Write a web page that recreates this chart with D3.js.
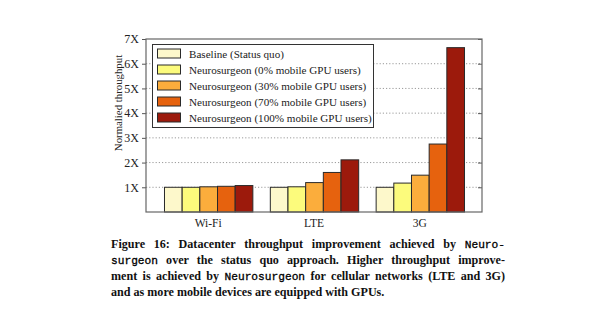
<!DOCTYPE html>
<html>
<head>
<meta charset="utf-8">
<script src="https://cdn.jsdelivr.net/npm/d3@7"></script>
<style>
  html, body { margin: 0; padding: 0; background: #fff; }
  svg { display: block; }
</style>
</head>
<body>
<svg id="chart" width="600" height="330"></svg>
<script>
// Throughput per network type, normalised to the status-quo baseline
const categories = ["Wi-Fi", "LTE", "3G"];
const seriesNames = [
  "Baseline (Status quo)",
  "Neurosurgeon (0% mobile GPU users)",
  "Neurosurgeon (30% mobile GPU users)",
  "Neurosurgeon (70% mobile GPU users)",
  "Neurosurgeon (100% mobile GPU users)"
];
const baseline = [1.00, 1.00, 1.00];
const gpu0     = [1.00, 1.02, 1.17];
const gpu30    = [1.02, 1.19, 1.49];
const gpu70    = [1.04, 1.60, 2.75];
const gpu100   = [1.07, 2.11, 6.65];
const yTicks = [1, 2, 3, 4, 5, 6, 7];
const yTickLabels = ["1X", "2X", "3X", "4X", "5X", "6X", "7X"];
const colors = ["#fdf8cb", "#fcfb7c", "#fbad3c", "#e6620e", "#9c1a0c"];

const seriesValues = [baseline, gpu0, gpu30, gpu70, gpu100];

const svg = d3.select("#chart");
const serif = "'Liberation Serif', 'Times New Roman', serif";
const mono = "'Liberation Mono', 'DejaVu Sans Mono', monospace";

const plot = { left: 146, right: 482, top: 39, bottom: 212 };

const x0 = d3.scaleBand()
  .domain(categories)
  .range([plot.left, plot.right])
  .paddingInner(0.165)
  .paddingOuter(0.17);

const x1 = d3.scaleBand()
  .domain(d3.range(seriesNames.length))
  .range([0, x0.bandwidth()])
  .padding(0);

const y = d3.scaleLinear().domain([0, 7]).range([plot.bottom, plot.top]);

// dotted grid lines
svg.append("g")
  .selectAll("line")
  .data(yTicks.filter(t => t < 7))
  .join("line")
  .attr("x1", plot.left).attr("x2", plot.right)
  .attr("y1", d => y(d)).attr("y2", d => y(d))
  .attr("stroke", "#9a9a9a")
  .attr("stroke-width", 1)
  .attr("stroke-dasharray", "1.2,2");

// bars
const groups = svg.append("g")
  .selectAll("g")
  .data(categories)
  .join("g")
  .attr("transform", d => `translate(${x0(d)},0)`);

groups.selectAll("rect")
  .data((c, ci) => seriesValues.map((vals, si) => ({ si, v: vals[ci] })))
  .join("rect")
  .attr("x", d => x1(d.si) + 0.5)
  .attr("width", x1.bandwidth())
  .attr("y", d => y(d.v))
  .attr("height", d => y(0) - y(d.v))
  .attr("fill", d => colors[d.si])
  .attr("stroke", "#2a2a2a")
  .attr("stroke-width", 1);

// left axis
const yAxisLeft = d3.axisLeft(y)
  .tickValues(yTicks)
  .tickFormat((d, i) => yTickLabels[i])
  .tickSize(4)
  .tickPadding(3);
const gy = svg.append("g")
  .attr("transform", `translate(${plot.left},0)`)
  .call(yAxisLeft);
gy.select(".domain").remove();
gy.selectAll(".tick line").attr("stroke", "#555");
gy.selectAll(".tick text")
  .attr("font-family", serif)
  .attr("font-size", 12)
  .attr("fill", "#222");

// right axis ticks (inward)
const yAxisRight = d3.axisRight(y).tickValues(yTicks).tickSize(-4).tickFormat("");
const gyr = svg.append("g")
  .attr("transform", `translate(${plot.right},0)`)
  .call(yAxisRight);
gyr.select(".domain").remove();
gyr.selectAll(".tick line").attr("stroke", "#555");

// category labels
const xAxis = d3.axisBottom(x0).tickSize(0).tickPadding(7);
const gx = svg.append("g")
  .attr("transform", `translate(0,${plot.bottom})`)
  .call(xAxis);
gx.select(".domain").remove();
gx.selectAll(".tick text")
  .attr("font-family", serif)
  .attr("font-size", 11.5)
  .attr("fill", "#222");

// plot frame
svg.append("rect")
  .attr("x", plot.left).attr("y", plot.top)
  .attr("width", plot.right - plot.left)
  .attr("height", plot.bottom - plot.top)
  .attr("fill", "none")
  .attr("stroke", "#666")
  .attr("stroke-width", 1.2);

// y-axis title
svg.append("text")
  .attr("transform", "translate(122,103) rotate(-90)")
  .attr("text-anchor", "middle")
  .attr("font-family", serif)
  .attr("font-size", 10.8)
  .attr("fill", "#222")
  .text("Normalied throughput");

// legend
const legend = svg.append("g");
legend.append("rect")
  .attr("x", 152.5).attr("y", 44.5)
  .attr("width", 221).attr("height", 83)
  .attr("fill", "#fff")
  .attr("stroke", "#333")
  .attr("stroke-width", 1);
const rowY = d3.scaleLinear().domain([0, 1]).range([53.5, 69.5]);
const items = legend.selectAll("g.item")
  .data(seriesNames)
  .join("g")
  .attr("class", "item")
  .attr("transform", (d, i) => `translate(0,${rowY(i)})`);
items.append("rect")
  .attr("x", 157.5).attr("y", -4.5)
  .attr("width", 23).attr("height", 9)
  .attr("fill", (d, i) => colors[i])
  .attr("stroke", "#2a2a2a")
  .attr("stroke-width", 1);
items.append("text")
  .attr("x", 189).attr("y", 4)
  .attr("font-family", serif)
  .attr("font-size", 11.1)
  .attr("fill", "#222")
  .text(d => d);

// caption, justified between the two margins
const capLeft = 111, capRight = 505;
const captionLines = [
  [["b", "Figure 16: Datacenter throughput improvement achieved by "], ["m", "Neuro-"]],
  [["m", "surgeon"], ["b", " over the status quo approach. Higher throughput improve-"]],
  [["b", "ment is achieved by "], ["m", "Neurosurgeon"], ["b", " for cellular networks (LTE and 3G)"]],
  [["b", "and as more mobile devices are equipped with GPUs."]]
];
captionLines.forEach((parts, li) => {
  const t = svg.append("text")
    .attr("x", capLeft)
    .attr("y", 248 + li * 16)
    .attr("fill", "#111")
    .attr("xml:space", "preserve")
    .style("white-space", "pre");
  parts.forEach(([kind, str]) => {
    const span = t.append("tspan")
      .attr("font-family", kind === "m" ? mono : serif)
      .attr("font-weight", kind === "m" ? "normal" : "bold")
      .attr("font-size", kind === "m" ? 11.2 : 12.1)
      .text(str);
    if (kind === "m") {
      span.attr("fill", "#000").attr("stroke", "#000").attr("stroke-width", 0.3);
    }
  });
  if (li < captionLines.length - 1) {
    const natural = t.node().getComputedTextLength();
    const spaces = parts.map(p => p[1]).join("").split(" ").length - 1;
    const extra = (capRight - capLeft - natural) / spaces;
    t.attr("word-spacing", extra);
  }
});
</script>
</body>
</html>
